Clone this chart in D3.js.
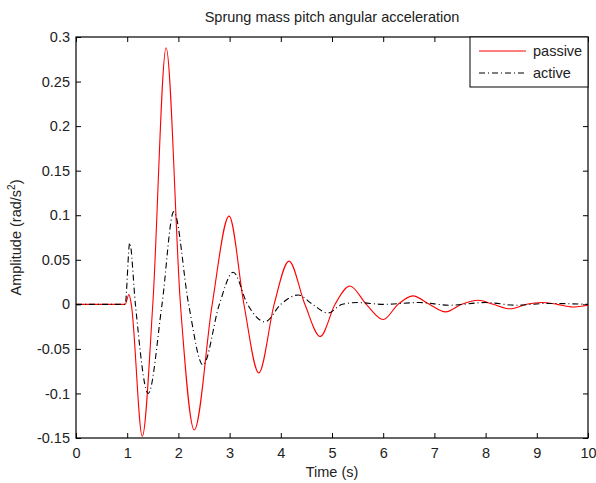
<!DOCTYPE html>
<html>
<head>
<meta charset="utf-8">
<script src="https://cdn.jsdelivr.net/npm/d3@7"></script>
<style>
  body { margin: 0; background: #fff; }
  text { font-family: "Liberation Sans", Arial, sans-serif; fill: #222; }
</style>
</head>
<body>
<div id="chart"></div>
<script>
// values
var passiveT = [0, 0.96, 1.035, 1.08, 1.295, 1.50, 1.76, 2.04, 2.31, 2.66, 2.99, 3.28, 3.57, 3.87, 4.16, 4.47, 4.77, 5.06, 5.35, 5.67, 6.0, 6.29, 6.58, 6.9, 7.22, 7.53, 7.85, 8.15, 8.48, 8.8, 9.1, 9.4, 9.7, 10];
var passiveV = [0, 0, 0.011, 0, -0.148, 0, 0.288, 0, -0.141, 0, 0.099, 0, -0.077, 0, 0.0485, 0, -0.036, 0, 0.0206, 0, -0.017, 0, 0.0095, 0, -0.0085, 0, 0.0045, 0, -0.005, 0, 0.002, 0, -0.003, -0.001];
var activeT = [0, 0.96, 1.05, 1.16, 1.41, 1.68, 1.91, 2.2, 2.48, 2.8, 3.07, 3.35, 3.69, 4.0, 4.34, 4.62, 4.92, 5.2, 5.5, 6.0, 6.7, 7.3, 8.0, 8.6, 9.2, 10];
var activeV = [0, 0, 0.069, 0, -0.100, 0, 0.104, 0, -0.068, 0, 0.036, 0, -0.0197, 0, 0.0105, 0, -0.0097, 0, 0.002, 0, 0.002, -0.001, 0.002, -0.001, 0.001, 0];
var xTicks = [0, 1, 2, 3, 4, 5, 6, 7, 8, 9, 10];
var yTicks = [-0.15, -0.1, -0.05, 0, 0.05, 0.1, 0.15, 0.2, 0.25, 0.3];
var legendNames = ["passive", "active"];

var W = 596, H = 483,
    m = {left: 76, right: 8, top: 37, bottom: 45},
    pw = W - m.left - m.right,
    ph = H - m.top - m.bottom,
    fs = "14.5px";

var svg = d3.select("#chart").append("svg")
  .attr("width", W)
  .attr("height", H);

var x = d3.scaleLinear().domain([0, 10]).range([0, pw]);
var y = d3.scaleLinear().domain([-0.15, 0.3]).range([ph, 0]);

var g = svg.append("g")
  .attr("transform", "translate(" + m.left + "," + m.top + ")");

// plain hyphen minus like the original
var fmtY = (d) => String(+d.toFixed(2));

// axes with inward ticks, MATLAB box style
function styleAxis(sel) {
  sel.select(".domain").remove();
  sel.selectAll("line").attr("stroke", "#000");
  sel.selectAll("text").style("font-size", fs).attr("fill", "#222");
}

g.append("g")
  .attr("transform", "translate(0," + ph + ")")
  .call(d3.axisBottom(x).tickValues(xTicks).tickSize(-5).tickPadding(10))
  .call(styleAxis);
g.append("g")
  .call(d3.axisTop(x).tickValues(xTicks).tickSize(-5).tickFormat(""))
  .call(styleAxis);
g.append("g")
  .call(d3.axisLeft(y).tickValues(yTicks).tickSize(-5).tickPadding(6).tickFormat(fmtY))
  .call(styleAxis);
g.append("g")
  .attr("transform", "translate(" + pw + ",0)")
  .call(d3.axisRight(y).tickValues(yTicks).tickSize(-5).tickFormat(""))
  .call(styleAxis);

g.append("rect")
  .attr("width", pw).attr("height", ph)
  .attr("fill", "none").attr("stroke", "#000").attr("stroke-width", 1.2);

var passive = passiveT.map((t, i) => [t, passiveV[i]]);
var active = activeT.map((t, i) => [t, activeV[i]]);

var line = d3.line()
  .x((d) => x(d[0]))
  .y((d) => y(d[1]))
  .curve(d3.curveMonotoneX);

g.append("path")
  .datum(passive)
  .attr("d", line)
  .attr("fill", "none")
  .attr("stroke", "#ff0000")
  .attr("stroke-width", 1.1);

g.append("path")
  .datum(active)
  .attr("d", line)
  .attr("fill", "none")
  .attr("stroke", "#000")
  .attr("stroke-width", 1.1)
  .attr("stroke-dasharray", "6,3,1,3");

// legend
var lg = g.append("g").attr("transform", "translate(" + (pw - 118) + ",0)");
lg.append("rect")
  .attr("width", 118).attr("height", 50)
  .attr("fill", "#fff").attr("stroke", "#000").attr("stroke-width", 1);
legendNames.forEach((name, i) => {
  var yy = 14 + i * 22;
  lg.append("line")
    .attr("x1", 9).attr("x2", 56).attr("y1", yy).attr("y2", yy)
    .attr("stroke", i == 0 ? "#ff0000" : "#000")
    .attr("stroke-width", 1.1)
    .attr("stroke-dasharray", i == 0 ? null : "6,3,1,3");
  lg.append("text")
    .attr("x", 63).attr("y", yy + 5)
    .style("font-size", fs)
    .text(name);
});

// titles
svg.append("text")
  .attr("x", m.left + pw / 2).attr("y", 22)
  .attr("text-anchor", "middle")
  .style("font-size", fs)
  .text("Sprung mass pitch angular acceleration");

svg.append("text")
  .attr("x", m.left + pw / 2).attr("y", 477)
  .attr("text-anchor", "middle")
  .style("font-size", fs)
  .text("Time (s)");

var yl = svg.append("text")
  .attr("transform", "translate(21," + (m.top + ph / 2) + ") rotate(-90)")
  .attr("text-anchor", "middle")
  .style("font-size", fs);
yl.append("tspan").text("Amplitude (rad/s");
yl.append("tspan").attr("dy", -6).style("font-size", "10px").text("2");
yl.append("tspan").attr("dy", 6).text(")");
</script>
</body>
</html>
